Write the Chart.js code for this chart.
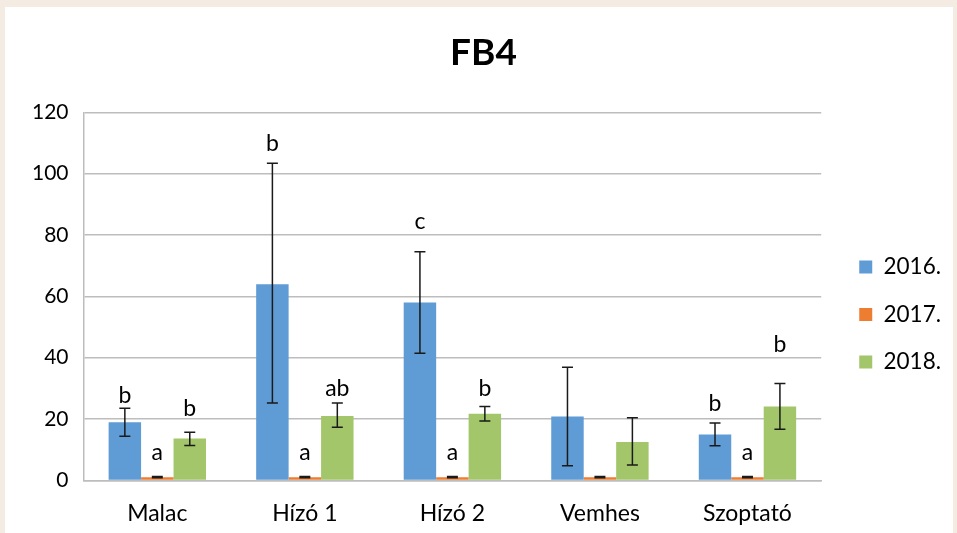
<!DOCTYPE html>
<html>
<head>
<meta charset="utf-8">
<script src="https://cdn.jsdelivr.net/npm/chart.js@4/dist/chart.umd.min.js"></script>
<style>
  html, body { margin: 0; padding: 0; }
  body { width: 957px; height: 533px; background: #f4ebe2; position: relative; overflow: hidden; }
  #panel { position: absolute; left: 5px; top: 7px; width: 948px; height: 526px; background: #ffffff; }
  #panel canvas { display: block; }
</style>
</head>
<body>
<div id="panel"><canvas id="chart" width="948" height="526"></canvas></div>
<script>
// Categories and series
const categories = ['Malac', 'Hízó 1', 'Hízó 2', 'Vemhes', 'Szoptató'];
const seriesNames = ['2016.', '2017.', '2018.'];

const values2016 = [19.0, 64.0, 58.0, 20.8, 15.0];
const values2017 = [1.0, 1.0, 1.0, 1.0, 1.0];
const values2018 = [13.7, 21.0, 21.7, 12.5, 24.1];

// Error bar bounds (low / high)
const errLow2016 = [14.4, 25.2, 41.5, 4.8, 11.3];
const errHigh2016 = [23.5, 103.4, 74.6, 36.9, 18.7];
const errLow2017 = [0.9, 0.9, 0.9, 0.9, 0.9];
const errHigh2017 = [1.3, 1.3, 1.3, 1.3, 1.3];
const errLow2018 = [11.4, 17.3, 19.4, 5.0, 16.7];
const errHigh2018 = [15.7, 25.2, 24.1, 20.4, 31.6];

// Significance letters and the value at which each letter's baseline sits
const letters2016 = ['b', 'b', 'c', '', 'b'];
const letters2017 = ['a', 'a', 'a', '', 'a'];
const letters2018 = ['b', 'ab', 'b', '', 'b'];
const letterBase2016 = [25.3, 107.5, 81.9, null, 22.5];
const letterBase2017 = [6.8, 6.8, 6.8, null, 6.8];
const letterBase2018 = [20.9, 27.5, 27.5, null, 41.9];

// Axis ticks
const yTicks = [0, 20, 40, 60, 80, 100, 120];

const FONT = 'Lato, "Open Sans", sans-serif';

const errorBars = [
  { low: errLow2016, high: errHigh2016 },
  { low: errLow2017, high: errHigh2017 },
  { low: errLow2018, high: errHigh2018 }
];
const letterSets = [
  { text: letters2016, base: letterBase2016 },
  { text: letters2017, base: letterBase2017 },
  { text: letters2018, base: letterBase2018 }
];

// Draws the error whiskers and the significance letters over each bar
const annotations = {
  id: 'annotations',
  afterDatasetsDraw(chart) {
    const ctx = chart.ctx;
    const yScale = chart.scales.y;
    ctx.save();
    chart.data.datasets.forEach((ds, i) => {
      const meta = chart.getDatasetMeta(i);
      const eb = errorBars[i];
      const ls = letterSets[i];
      meta.data.forEach((bar, j) => {
        const x = bar.x;
        const yLo = yScale.getPixelForValue(eb.low[j]);
        const yHi = yScale.getPixelForValue(eb.high[j]);
        const cap = 5.5;
        ctx.strokeStyle = '#1a1a1a';
        ctx.lineWidth = 1.5;
        ctx.beginPath();
        ctx.moveTo(x, yLo); ctx.lineTo(x, yHi);
        ctx.moveTo(x - cap, yLo); ctx.lineTo(x + cap, yLo);
        ctx.moveTo(x - cap, yHi); ctx.lineTo(x + cap, yHi);
        ctx.stroke();

        if (ls.text[j]) {
          ctx.fillStyle = '#000000';
          ctx.font = '23px ' + FONT;
          ctx.textAlign = 'center';
          ctx.textBaseline = 'alphabetic';
          ctx.fillText(ls.text[j], x, yScale.getPixelForValue(ls.base[j]));
        }
      });
    });
    ctx.restore();
  }
};

// Leaves a gap between the plot and the legend, lowers the legend a little,
// and nudges the title to the right
const layoutNudge = {
  id: 'layoutNudge',
  afterLayout(chart) {
    const lg = chart.legend;
    if (lg) {
      const dx = 13, dy = 38;
      lg.left += dx; lg.right += dx;
      lg.top += dy; lg.bottom += dy;
    }
    const tb = chart.titleBlock;
    if (tb) {
      tb.left += 6; tb.right += 6;
    }
  }
};

new Chart(document.getElementById('chart'), {
  type: 'bar',
  data: {
    labels: categories,
    datasets: [
      { label: seriesNames[0], data: values2016, backgroundColor: '#5f9bd5' },
      { label: seriesNames[1], data: values2017, backgroundColor: '#ed7d31' },
      { label: seriesNames[2], data: values2018, backgroundColor: '#a3c66b' }
    ]
  },
  options: {
    responsive: false,
    animation: false,
    events: [],
    layout: { padding: { left: 12, right: 15, top: 0, bottom: -13 } },
    datasets: {
      bar: { categoryPercentage: 0.66, barPercentage: 1.0, borderWidth: 0 }
    },
    scales: {
      x: {
        grid: { display: false, drawTicks: false },
        border: { display: true, color: '#bdbdbd', width: 1.5 },
        ticks: { color: '#000000', font: { family: FONT, size: 23 }, padding: 19, maxRotation: 0 }
      },
      y: {
        min: 0,
        max: 120,
        afterBuildTicks(scale) { scale.ticks = yTicks.map(v => ({ value: v })); },
        grid: { color: '#bdbdbd', lineWidth: 1.5, drawTicks: false },
        border: { display: true, color: '#bdbdbd', width: 1.5 },
        ticks: { color: '#000000', font: { family: FONT, size: 21 }, padding: 15 }
      }
    },
    plugins: {
      title: {
        display: true,
        text: 'FB4',
        color: '#000000',
        font: { family: FONT, size: 37, weight: 'bold' },
        padding: { top: 24, bottom: 37 }
      },
      legend: {
        display: true,
        position: 'right',
        labels: {
          color: '#000000',
          font: { family: FONT, size: 22.5 },
          boxWidth: 13,
          boxHeight: 13,
          padding: 25
        }
      },
      tooltip: { enabled: false }
    }
  },
  plugins: [annotations, layoutNudge]
});
</script>
</body>
</html>
